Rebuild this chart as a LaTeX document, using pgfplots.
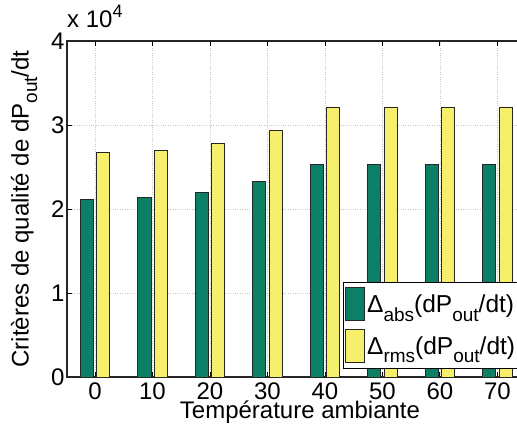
\documentclass[border=0pt]{standalone}
\usepackage{fontspec}
\setmainfont{Liberation Sans}
\usepackage{pgfplots}
\pgfplotsset{compat=1.18}
\definecolor{gbar}{RGB}{12,128,102}
\definecolor{ybar}{RGB}{245,239,108}
\newcommand{\sub}[1]{\raisebox{-0.35em}{\fontsize{19}{19}\selectfont #1}}
\newcommand{\BigF}{\fontsize{24}{28}\selectfont}
\newcommand{\LegF}{\fontsize{24.5}{28}\selectfont}
\begin{document}
\begin{tikzpicture}
\pgfplotsset{mylegend/.style={legend image code/.code={\draw[##1, line width=0.8pt] (0pt,-16.5pt) rectangle (19pt,16.5pt);}}}
\begin{axis}[name=ax, scale only axis, width=466pt, height=336pt,
  xmin=-4.87, xmax=76.2, ymin=0, ymax=40000,
  xtick={0,10,20,30,40,50,60,70},
  ytick={0,10000,20000,30000,40000}, yticklabels={0,1,2,3,4},
  scaled y ticks=false,
  tick align=inside, tick pos=both, major tick length=5pt,
  tick style={black, line width=0.8pt},
  grid=major, grid style={dotted, gray!45, line width=0.7pt},
  axis line style={black!85, line width=1.1pt},
  /pgf/number format/assume math mode=true,
  font=\BigF,
  ticklabel style={font=\BigF},
  yticklabel style={xshift=1pt},
  xticklabel style={inner sep=0.5pt, yshift=-5.5pt},
  xlabel={Température ambiante},
  ylabel={Critères de qualité de dP\sub{out}/dt},
  xlabel style={font=\BigF, inner sep=0.5pt, text height=0.72em, text depth=0.21em,
    at={(axis description cs:0.5,0)}, anchor=base, yshift=-42pt},
  ylabel style={font=\BigF, at={(axis description cs:-0.092,0.5)}, anchor=center},
  legend style={font=\LegF, at={(rel axis cs:0.592,0.283)}, anchor=north west,
    draw=black, line width=1pt, inner xsep=2pt, inner ysep=5pt, row sep=8pt,
    legend cell align=left},
]
\addplot[ybar, bar width=2.3, bar shift=-1.42, fill=gbar, draw=black!85, line width=0.8pt, mylegend]
  coordinates {(0,21150) (10,21400) (20,22000) (30,23250) (40,25300) (50,25300) (60,25300) (70,25300)};
\addlegendentry{Δ\sub{abs}(dP\sub{out}/dt)}
\addplot[ybar, bar width=2.3, bar shift=1.42, fill=ybar, draw=black!85, line width=0.8pt, mylegend]
  coordinates {(0,26700) (10,27000) (20,27800) (30,29400) (40,32150) (50,32150) (60,32150) (70,32150)};
\addlegendentry{Δ\sub{rms}(dP\sub{out}/dt)}
\end{axis}
\node[anchor=base west, font=\BigF, inner sep=0pt] at ([yshift=13pt]ax.north west) {x 10\raisebox{0.45em}{\fontsize{18}{18}\selectfont 4}};
\pgfresetboundingbox
\path[use as bounding box] (-67pt,-48pt) rectangle (450pt,377pt);
\end{tikzpicture}
\end{document}
